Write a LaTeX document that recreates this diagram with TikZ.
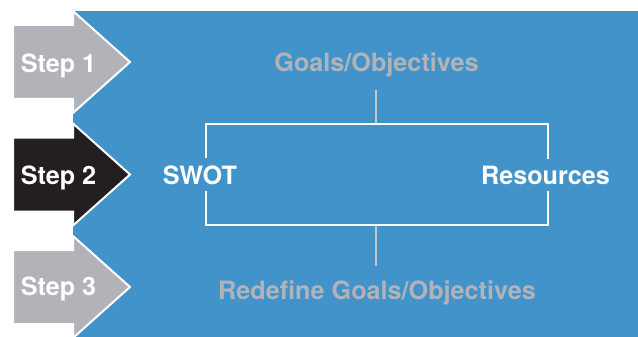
\documentclass[tikz,border=0pt]{standalone}
\usepackage{fontspec}
\setmainfont{TeX Gyre Heros}
\definecolor{bgblue}{HTML}{4393CB}
\definecolor{stepgrey}{HTML}{B1B3B9}
\definecolor{stepblack}{HTML}{231F20}
\definecolor{linegrey}{HTML}{C3C6CB}
\tikzset{
  lbl/.style={font=\fontsize{25.2}{29}\selectfont\bfseries, inner sep=0pt, anchor=base},
  steparrow/.style={draw=white, line width=2pt, line join=miter},
  boxline/.style={draw=white, line width=1.5pt},
  conn/.style={draw=linegrey, line width=1.4pt},
}
\newcommand{\steparr}[2]{%
  \path[steparrow, fill=#2] (13,#1-37) -- (73,#1-37) -- (73,#1-51) -- (130,#1) -- (73,#1+51) -- (73,#1+37) -- (13,#1+37) -- cycle;}
\begin{document}
\begin{tikzpicture}[x=1pt,y=-1pt]
\useasboundingbox (0,0) rectangle (638,337);
\fill[bgblue] (73,11) rectangle (638,337);
\steparr{62}{stepgrey}
\steparr{174.5}{stepblack}
\steparr{287}{stepgrey}
\node[lbl, text=white] (s1) at (58.5,72.5) {Step 1};
\node[lbl, text=white] (s2) at (58.5,184) {Step 2};
\node[lbl, text=white] (s3) at (58.5,295.5) {Step 3};
% bracket box
\node[boxline, minimum width=342pt, minimum height=101pt, inner sep=0pt] (box) at (377,174.5) {};
\node[lbl, text=stepgrey] (goals) at (376.5,72) {Goals/Objectives};
\node[lbl, text=stepgrey] (redef) at (377,299.3) {Redefine Goals/Objectives};
\node[lbl, text=white, fill=bgblue, inner xsep=0pt, inner ysep=7pt] (swot) at (200,184) {SWOT};
\node[lbl, text=white, fill=bgblue, inner xsep=0pt, inner ysep=7pt] (res) at (545.5,184) {Resources};
\coordinate (gl) at (376,90);
\coordinate (rl) at (376,266);
\draw[conn] (gl) -- (gl |- box.north);
\draw[conn] (box.south -| rl) -- (rl);
\end{tikzpicture}
\end{document}
